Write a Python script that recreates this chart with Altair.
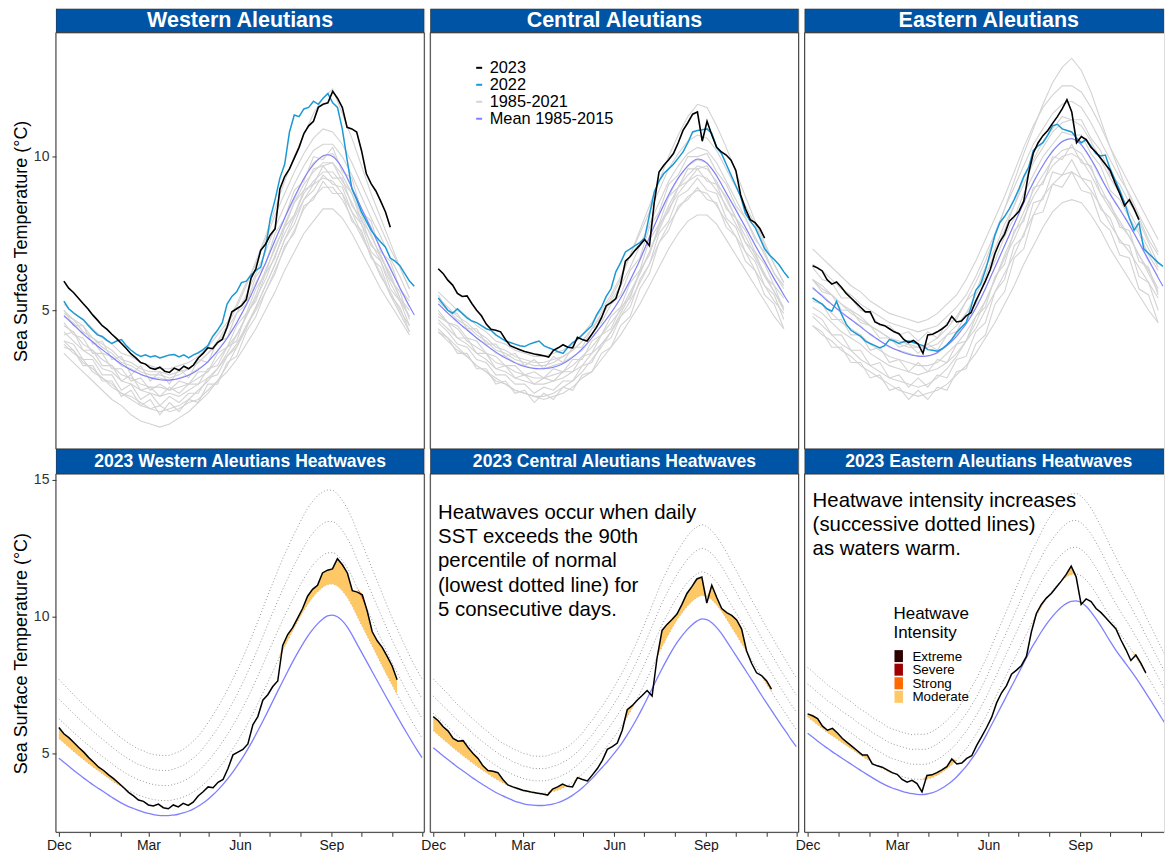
import altair as alt
import pandas as pd

# ---------------------------------------------------------------- data
DAYS = list(range(0, 366, 5))          # days since 1 Dec (climatology, 2022)
DAYS_2023 = list(range(0, 341, 5))     # 2023 record (to early Nov)
GREY_DAYS = list(range(0, 361, 10))    # 1985-2021 years
MONTH_STARTS = [0, 31, 62, 90, 121, 151, 182, 212, 243, 274, 304, 335, 365]
MONTH_NAMES = ["Dec", "", "", "Mar", "", "", "Jun", "", "", "Sep", "", "", ""]

TOP_TITLES = ["Western Aleutians", "Central Aleutians", "Eastern Aleutians"]
BOT_TITLES = ["2023 Western Aleutians Heatwaves", "2023 Central Aleutians Heatwaves",
              "2023 Eastern Aleutians Heatwaves"]
LEGEND_LABELS = ["2023", "2022", "1985-2021", "Mean 1985-2015"]
INTENSITY_LABELS = ["Extreme", "Severe", "Strong", "Moderate"]
NOTE_CENTRAL = ["Heatwaves occur when daily", "SST exceeds the 90th", "percentile of normal",
                "(lowest dotted line) for", "5 consecutive days."]
NOTE_EASTERN = ["Heatwave intensity increases", "(successive dotted lines)", "as waters warm."]
Y_TITLE = "Sea Surface Temperature (°C)"

# ---- Western Aleutians
W_MEAN = [4.83, 4.68, 4.53, 4.38, 4.24, 4.10, 3.97, 3.84, 3.72, 3.60,
          3.48, 3.36, 3.25, 3.15, 3.06, 2.99, 2.92, 2.86, 2.81, 2.77,
          2.74, 2.73, 2.73, 2.75, 2.78, 2.83, 2.89, 2.97, 3.07, 3.19,
          3.33, 3.49, 3.67, 3.87, 4.09, 4.33, 4.59, 4.87, 5.17, 5.49,
          5.83, 6.18, 6.54, 6.91, 7.28, 7.64, 8.00, 8.35, 8.68, 8.99,
          9.28, 9.53, 9.74, 9.91, 10.03, 10.06, 10.00, 9.85, 9.62, 9.32,
          8.98, 8.65, 8.32, 7.99, 7.66, 7.33, 7.00, 6.68, 6.36, 6.04,
          5.73, 5.43, 5.13, 4.85]
W_SPREAD = [.72, .71, .70, .69, .68, .67, .66, .65, .64, .63,
            .62, .61, .60, .59, .58, .57, .56, .56, .55, .55,
            .55, .55, .55, .56, .57, .58, .60, .62, .64, .67,
            .70, .73, .76, .79, .82, .85, .88, .91, .94, .97,
            1.00, 1.03, 1.06, 1.08, 1.10, 1.12, 1.13, 1.14, 1.15, 1.16,
            1.17, 1.17, 1.17, 1.16, 1.15, 1.14, 1.12, 1.10, 1.08, 1.06,
            1.03, 1.00, .97, .94, .91, .88, .85, .82, .80, .78,
            .76, .74, .73, .72]
W_2023 = [5.95, 5.72, 5.58, 5.40, 5.22, 5.05, 4.85, 4.68, 4.50, 4.38,
          4.22, 4.08, 3.92, 3.76, 3.58, 3.45, 3.30, 3.25, 3.12, 3.08,
          3.15, 3.02, 2.98, 3.12, 3.05, 3.18, 3.10, 3.22, 3.45, 3.60,
          3.78, 3.75, 3.95, 4.05, 4.45, 4.95, 5.05, 5.15, 5.35, 6.05,
          6.35, 6.95, 7.15, 7.45, 7.65, 8.95, 9.35, 9.60, 9.95, 10.30,
          10.75, 11.00, 11.15, 11.60, 11.70, 11.75, 12.12, 11.90, 11.60, 10.95,
          10.90, 10.80, 10.20, 9.45, 9.12, 8.88, 8.55, 8.20, 7.70]
W_2022 = [5.30, 5.05, 4.92, 4.80, 4.70, 4.52, 4.35, 4.20, 4.15, 4.02,
          3.92, 4.00, 4.05, 3.85, 3.70, 3.58, 3.50, 3.55, 3.48, 3.52,
          3.45, 3.50, 3.55, 3.56, 3.48, 3.55, 3.45, 3.55, 3.62, 3.72,
          3.85, 4.15, 4.35, 4.60, 5.20, 5.45, 5.60, 5.90, 5.95, 6.15,
          6.30, 6.40, 7.00, 8.00, 8.60, 9.30, 9.75, 10.80, 11.35, 11.30,
          11.55, 11.60, 11.80, 11.70, 11.90, 12.05, 11.75, 11.60, 10.90, 9.90,
          8.95, 8.60, 8.20, 7.90, 7.60, 7.40, 7.22, 7.05, 6.70, 6.60,
          6.45, 6.20, 5.95, 5.78]
W_GREY = [
    [3.9, 3.6, 3.4, 3.0, 2.8, 2.6, 2.3, 2.2, 2.0, 1.8, 1.9, 1.7, 1.8, 2.0, 2.1, 2.4, 2.7, 3.0, 3.4, 3.9,
     4.4, 5.0, 5.6, 6.3, 6.9, 7.5, 7.9, 8.3, 8.3, 8.0, 7.5, 6.9, 6.3, 5.7, 5.2, 4.7, 4.2],
    [4.3, 4.0, 3.7, 3.5, 3.1, 3.0, 2.7, 2.6, 2.4, 2.3, 2.2, 2.3, 2.2, 2.4, 2.6, 2.8, 3.1, 3.5, 3.9, 4.5,
     5.0, 5.6, 6.3, 7.0, 7.6, 8.3, 8.7, 9.0, 9.0, 8.6, 8.0, 7.4, 6.8, 6.1, 5.6, 5.0, 4.5],
    [4.5, 4.3, 3.9, 3.7, 3.4, 3.2, 2.9, 2.8, 2.6, 2.5, 2.5, 2.4, 2.5, 2.6, 2.8, 3.0, 3.4, 3.8, 4.2, 4.8,
     5.4, 6.0, 6.8, 7.5, 8.1, 8.8, 9.2, 9.5, 9.5, 9.1, 8.5, 7.8, 7.2, 6.6, 5.9, 5.3, 4.8],
    [4.8, 4.6, 4.2, 4.0, 3.6, 3.5, 3.2, 3.1, 2.9, 2.8, 2.8, 2.7, 2.8, 2.9, 3.1, 3.3, 3.7, 4.1, 4.6, 5.2,
     5.9, 6.5, 7.3, 8.0, 8.6, 9.3, 9.8, 10.0, 10.1, 9.6, 9.0, 8.3, 7.7, 7.0, 6.4, 5.7, 5.1],
    [5.0, 4.7, 4.5, 4.1, 3.9, 3.7, 3.4, 3.3, 3.1, 3.0, 3.0, 2.9, 3.0, 3.1, 3.3, 3.6, 3.9, 4.4, 4.9, 5.5,
     6.2, 6.9, 7.7, 8.4, 9.1, 9.7, 10.2, 10.4, 10.4, 10.0, 9.4, 8.7, 8.0, 7.4, 6.7, 6.1, 5.4],
    [5.2, 4.9, 4.7, 4.4, 4.1, 3.9, 3.6, 3.5, 3.3, 3.2, 3.1, 3.1, 3.2, 3.3, 3.5, 3.8, 4.2, 4.6, 5.2, 5.9,
     6.5, 7.3, 8.1, 8.8, 9.5, 10.1, 10.6, 10.9, 10.8, 10.4, 9.8, 9.1, 8.4, 7.7, 7.0, 6.4, 5.7],
    [4.9, 4.7, 4.3, 4.1, 3.8, 3.6, 3.3, 3.2, 3.0, 2.9, 2.9, 2.8, 2.9, 3.1, 3.3, 3.6, 4.0, 4.5, 5.1, 5.8,
     6.6, 7.4, 8.3, 9.2, 10.0, 10.7, 11.4, 11.9, 12.2, 11.4, 10.6, 9.7, 8.8, 8.0, 7.2, 6.4, 5.7],
    [4.0, 3.7, 3.3, 3.1, 2.8, 2.5, 2.3, 2.1, 1.9, 1.8, 1.7, 1.8, 1.9, 2.1, 2.4, 2.7, 3.1, 3.6, 4.2, 4.8,
     5.5, 6.3, 7.0, 7.8, 8.5, 9.1, 9.5, 9.8, 9.8, 9.4, 8.8, 8.1, 7.4, 6.8, 6.1, 5.4, 4.8],
    [3.6, 3.3, 3.0, 2.7, 2.4, 2.1, 1.9, 1.6, 1.4, 1.3, 1.2, 1.3, 1.5, 1.7, 2.0, 2.3, 2.7, 3.2, 3.8, 4.4,
     5.1, 5.8, 6.5, 7.3, 8.0, 8.6, 9.1, 9.3, 9.2, 8.8, 8.2, 7.5, 6.8, 6.2, 5.5, 4.9, 4.3],
    [4.2, 4.3, 3.7, 3.7, 3.2, 3.2, 2.7, 2.9, 2.4, 2.5, 2.2, 2.5, 2.3, 2.6, 2.6, 3.1, 3.2, 3.8, 4.0, 4.9,
     5.3, 6.2, 6.7, 7.7, 8.1, 8.9, 9.1, 9.7, 9.3, 9.3, 8.4, 8.0, 7.1, 6.8, 6.0, 5.6, 4.7],
    [4.6, 4.2, 4.1, 3.6, 3.6, 3.1, 3.1, 2.7, 2.8, 2.4, 2.6, 2.4, 2.7, 2.6, 3.0, 3.0, 3.6, 3.8, 4.5, 4.9,
     5.7, 6.2, 7.1, 7.7, 8.5, 8.9, 9.6, 9.7, 9.8, 9.2, 8.8, 7.9, 7.5, 6.7, 6.2, 5.4, 5.0],
    [4.0, 3.9, 3.4, 3.4, 2.9, 2.9, 2.4, 2.6, 2.1, 2.3, 1.9, 2.2, 2.0, 2.3, 2.3, 2.8, 2.9, 3.5, 3.8, 4.5,
     5.1, 5.8, 6.5, 7.3, 7.8, 8.6, 8.9, 9.4, 9.1, 9.0, 8.2, 7.8, 6.9, 6.6, 5.7, 5.3, 4.5],
    [5.0, 4.5, 4.5, 3.9, 4.0, 3.4, 3.5, 2.9, 3.2, 2.7, 3.0, 2.6, 3.1, 2.8, 3.4, 3.3, 4.0, 4.1, 4.9, 5.2,
     6.1, 6.5, 7.5, 8.0, 8.9, 9.2, 10.0, 9.9, 10.3, 9.5, 9.3, 8.2, 7.9, 6.9, 6.6, 5.7, 5.3],
    [3.8, 3.7, 3.2, 3.2, 2.7, 2.7, 2.2, 2.4, 1.9, 2.1, 1.6, 2.0, 1.7, 2.1, 2.0, 2.6, 2.6, 3.3, 3.5, 4.3,
     4.8, 5.6, 6.2, 7.1, 7.5, 8.4, 8.6, 9.2, 8.8, 8.8, 7.9, 7.6, 6.7, 6.4, 5.5, 5.1, 4.3],
]

# ---- Central Aleutians
C_MEAN = [5.21, 5.06, 4.91, 4.77, 4.63, 4.49, 4.36, 4.23, 4.10, 3.98,
          3.86, 3.75, 3.64, 3.54, 3.45, 3.37, 3.29, 3.22, 3.17, 3.13,
          3.11, 3.10, 3.10, 3.12, 3.15, 3.20, 3.27, 3.36, 3.47, 3.60,
          3.75, 3.92, 4.10, 4.30, 4.50, 4.70, 4.92, 5.15, 5.40, 5.68,
          5.98, 6.30, 6.64, 7.00, 7.37, 7.74, 8.10, 8.44, 8.76, 9.05,
          9.30, 9.52, 9.70, 9.84, 9.92, 9.89, 9.78, 9.60, 9.37, 9.10,
          8.82, 8.54, 8.26, 7.98, 7.70, 7.42, 7.13, 6.85, 6.58, 6.30,
          6.03, 5.77, 5.50, 5.25]
C_SPREAD = [.63, .62, .61, .60, .58, .57, .56, .55, .54, .53,
            .52, .51, .50, .49, .48, .48, .47, .47, .46, .46,
            .45, .45, .45, .45, .46, .46, .47, .47, .48, .49,
            .50, .52, .53, .55, .56, .58, .60, .62, .64, .66,
            .68, .70, .72, .74, .76, .78, .80, .81, .82, .83,
            .84, .85, .86, .86, .86, .85, .84, .83, .82, .81,
            .79, .78, .76, .75, .73, .72, .70, .69, .68, .67,
            .66, .65, .64, .63]
C_2023 = [6.35, 6.20, 5.98, 5.82, 5.55, 5.45, 5.47, 5.22, 5.00, 4.82,
          4.55, 4.38, 4.35, 4.30, 4.05, 3.85, 3.78, 3.72, 3.66, 3.62,
          3.58, 3.55, 3.52, 3.48, 3.70, 3.78, 3.88, 3.80, 3.78, 4.12,
          4.05, 4.00, 4.22, 4.45, 4.75, 5.15, 5.25, 5.38, 5.85, 6.60,
          6.75, 6.95, 7.12, 7.30, 7.10, 8.50, 9.50, 9.72, 9.90, 10.10,
          10.45, 10.85, 11.10, 11.38, 11.45, 10.50, 11.15, 10.70, 10.30, 10.15,
          10.05, 9.88, 9.55, 8.75, 8.30, 7.95, 7.85, 7.66, 7.35]
C_2022 = [5.40, 5.20, 5.00, 4.90, 5.05, 4.90, 4.75, 4.65, 4.60, 4.50,
          4.40, 4.35, 4.20, 4.10, 4.00, 3.95, 3.90, 3.85, 3.82, 3.90,
          3.95, 4.00, 3.85, 3.78, 3.72, 3.65, 3.60, 3.80, 3.95, 4.05,
          4.20, 4.35, 4.50, 4.85, 5.10, 5.45, 5.70, 6.25, 6.55, 6.90,
          7.00, 7.10, 7.20, 7.35, 8.10, 8.85, 9.20, 9.45, 9.60, 9.75,
          9.95, 10.15, 10.45, 10.80, 10.85, 10.87, 10.90, 10.75, 10.30, 10.10,
          9.75, 9.40, 9.05, 8.70, 8.15, 7.90, 7.70, 7.35, 7.00, 6.80,
          6.65, 6.48, 6.25, 6.05]
C_GREY = [
    [4.3, 4.0, 3.7, 3.5, 3.2, 3.0, 2.7, 2.6, 2.4, 2.3, 2.2, 2.1, 2.2, 2.3, 2.5, 2.8, 3.0, 3.4, 3.8, 4.2,
     4.7, 5.2, 5.8, 6.4, 7.0, 7.5, 7.9, 8.1, 8.1, 7.8, 7.3, 6.8, 6.3, 5.8, 5.3, 4.8, 4.4],
    [4.7, 4.4, 4.1, 3.9, 3.6, 3.4, 3.1, 3.0, 2.8, 2.7, 2.6, 2.6, 2.7, 2.8, 3.0, 3.2, 3.6, 3.9, 4.3, 4.8,
     5.3, 5.9, 6.5, 7.2, 7.8, 8.3, 8.7, 8.9, 8.8, 8.4, 7.9, 7.4, 6.9, 6.3, 5.8, 5.3, 4.9],
    [4.9, 4.6, 4.4, 4.0, 3.8, 3.6, 3.3, 3.2, 3.0, 2.9, 2.8, 2.8, 2.9, 3.0, 3.2, 3.5, 3.8, 4.2, 4.6, 5.0,
     5.6, 6.2, 6.9, 7.6, 8.3, 8.8, 9.2, 9.4, 9.3, 8.9, 8.4, 7.8, 7.2, 6.7, 6.1, 5.6, 5.1],
    [5.2, 4.9, 4.6, 4.4, 4.1, 3.9, 3.6, 3.5, 3.3, 3.2, 3.1, 3.1, 3.2, 3.3, 3.5, 3.7, 4.1, 4.5, 4.9, 5.4,
     6.0, 6.6, 7.4, 8.1, 8.7, 9.3, 9.7, 9.9, 9.8, 9.4, 8.8, 8.3, 7.7, 7.1, 6.6, 6.0, 5.5],
    [5.4, 5.1, 4.8, 4.6, 4.3, 4.1, 3.8, 3.7, 3.5, 3.4, 3.3, 3.3, 3.4, 3.5, 3.7, 4.0, 4.4, 4.8, 5.3, 5.8,
     6.4, 7.1, 7.8, 8.5, 9.2, 9.7, 10.1, 10.3, 10.2, 9.8, 9.2, 8.6, 8.0, 7.4, 6.8, 6.2, 5.7],
    [5.6, 5.3, 5.0, 4.8, 4.5, 4.3, 4.0, 3.9, 3.7, 3.6, 3.5, 3.5, 3.6, 3.7, 3.9, 4.2, 4.6, 5.0, 5.5, 6.1,
     6.8, 7.5, 8.2, 8.9, 9.6, 10.1, 10.5, 10.7, 10.6, 10.2, 9.6, 9.0, 8.4, 7.8, 7.1, 6.5, 5.9],
    [5.3, 5.0, 4.7, 4.5, 4.2, 4.0, 3.7, 3.6, 3.4, 3.3, 3.2, 3.2, 3.3, 3.5, 3.7, 4.0, 4.4, 4.9, 5.4, 6.0,
     6.8, 7.6, 8.4, 9.2, 10.0, 10.7, 11.3, 11.7, 11.6, 11.0, 10.3, 9.5, 8.7, 7.9, 7.2, 6.5, 5.9],
    [4.4, 4.1, 3.8, 3.5, 3.2, 3.0, 2.8, 2.6, 2.4, 2.3, 2.2, 2.2, 2.3, 2.5, 2.7, 3.0, 3.4, 3.8, 4.3, 4.9,
     5.5, 6.2, 6.9, 7.7, 8.4, 9.0, 9.4, 9.7, 9.6, 9.2, 8.6, 8.0, 7.4, 6.8, 6.2, 5.6, 5.0],
    [4.8, 4.6, 4.1, 4.1, 3.6, 3.6, 3.1, 3.2, 2.8, 2.9, 2.6, 2.8, 2.7, 3.0, 3.0, 3.5, 3.6, 4.2, 4.4, 5.1,
     5.4, 6.3, 6.8, 7.8, 8.2, 9.0, 9.2, 9.6, 9.2, 9.1, 8.3, 8.0, 7.2, 6.9, 6.1, 5.8, 5.0],
    [5.0, 4.6, 4.5, 4.1, 4.0, 3.6, 3.5, 3.2, 3.2, 2.9, 3.0, 2.8, 3.1, 3.0, 3.4, 3.4, 4.0, 4.2, 4.8, 5.1,
     5.9, 6.3, 7.3, 7.8, 8.7, 9.0, 9.6, 9.6, 9.7, 9.1, 8.7, 8.0, 7.6, 6.9, 6.5, 5.8, 5.4],
    [4.6, 4.3, 3.9, 3.8, 3.4, 3.3, 2.9, 2.9, 2.6, 2.6, 2.3, 2.5, 2.4, 2.7, 2.7, 3.2, 3.3, 3.9, 4.1, 4.8,
     5.1, 6.0, 6.5, 7.5, 7.9, 8.7, 8.9, 9.3, 8.9, 8.8, 8.0, 7.7, 6.9, 6.6, 5.8, 5.5, 4.7],
    [5.5, 5.0, 4.9, 4.4, 4.4, 3.9, 3.9, 3.5, 3.6, 3.2, 3.4, 3.1, 3.5, 3.3, 3.8, 3.8, 4.4, 4.6, 5.2, 5.5,
     6.3, 6.7, 7.7, 8.2, 9.1, 9.4, 10.0, 10.0, 10.1, 9.5, 9.1, 8.4, 8.0, 7.3, 6.9, 6.2, 5.8],
    [4.3, 4.1, 3.6, 3.6, 3.1, 3.1, 2.6, 2.7, 2.3, 2.4, 2.0, 2.3, 2.1, 2.5, 2.4, 2.9, 3.0, 3.6, 3.8, 4.5,
     4.8, 5.7, 6.2, 7.2, 7.6, 8.4, 8.6, 9.0, 8.6, 8.5, 7.7, 7.4, 6.6, 6.3, 5.5, 5.2, 4.4],
]

# ---- Eastern Aleutians
E_MEAN = [5.74, 5.60, 5.46, 5.32, 5.19, 5.06, 4.94, 4.82, 4.70, 4.58,
          4.46, 4.34, 4.23, 4.12, 4.01, 3.91, 3.82, 3.74, 3.68, 3.62,
          3.57, 3.53, 3.51, 3.50, 3.52, 3.56, 3.63, 3.73, 3.85, 3.99,
          4.15, 4.35, 4.56, 4.80, 5.07, 5.37, 5.70, 6.05, 6.40, 6.75,
          7.10, 7.45, 7.80, 8.15, 8.50, 8.85, 9.15, 9.45, 9.72, 9.96,
          10.17, 10.35, 10.48, 10.56, 10.58, 10.52, 10.38, 10.17, 9.92, 9.65,
          9.35, 9.05, 8.77, 8.52, 8.28, 8.03, 7.77, 7.50, 7.22, 6.93,
          6.64, 6.35, 6.06, 5.78]
E_SPREAD = [.60, .60, .59, .59, .58, .58, .58, .57, .57, .57,
            .56, .56, .56, .55, .55, .55, .54, .54, .54, .54,
            .54, .54, .55, .55, .55, .56, .57, .58, .59, .60,
            .61, .63, .64, .66, .67, .69, .70, .72, .74, .76,
            .78, .80, .82, .84, .86, .88, .89, .91, .93, .94,
            .95, .96, .97, .98, .98, .97, .96, .95, .93, .91,
            .89, .87, .85, .82, .80, .78, .75, .73, .70, .68,
            .66, .64, .62, .60]
E_2023 = [6.45, 6.38, 6.28, 6.00, 5.85, 5.92, 5.75, 5.55, 5.40, 5.25,
          5.10, 4.95, 4.95, 4.62, 4.55, 4.50, 4.40, 4.30, 4.24, 4.05,
          3.95, 4.02, 3.90, 3.60, 4.20, 4.22, 4.30, 4.40, 4.52, 4.80,
          4.62, 4.65, 4.82, 4.92, 5.30, 5.62, 5.95, 6.32, 6.85, 7.22,
          7.48, 7.90, 8.05, 8.22, 8.55, 9.45, 10.12, 10.45, 10.68, 10.85,
          11.08, 11.30, 11.55, 11.85, 11.45, 10.45, 10.65, 10.55, 10.30, 10.15,
          9.95, 9.75, 9.55, 9.15, 8.80, 8.40, 8.60, 8.30, 7.95]
E_2022 = [5.40, 5.30, 5.20, 5.05, 4.97, 5.29, 4.88, 4.55, 4.35, 4.25,
          4.15, 4.00, 3.92, 3.85, 3.78, 3.85, 4.05, 4.00, 3.92, 3.98,
          4.00, 3.95, 3.90, 3.85, 3.72, 3.70, 3.67, 3.75, 3.88, 4.05,
          4.28, 4.45, 4.60, 5.10, 5.65, 5.85, 6.30, 6.85, 7.45, 7.85,
          8.05, 8.30, 8.60, 8.95, 9.35, 9.65, 10.20, 10.35, 10.45, 10.70,
          11.00, 11.05, 10.90, 10.85, 10.80, 10.60, 10.45, 10.55, 10.35, 10.10,
          10.02, 10.05, 9.60, 9.25, 8.90, 8.50, 8.00, 7.60, 7.85, 7.00,
          6.85, 6.70, 6.55, 6.43]
E_GREY = [
    [4.5, 4.2, 4.0, 3.7, 3.5, 3.2, 3.0, 2.8, 2.6, 2.4, 2.3, 2.2, 2.3, 2.4, 2.6, 2.9, 3.2, 3.6, 4.1, 4.6,
     5.2, 5.8, 6.5, 7.1, 7.7, 8.2, 8.5, 8.6, 8.5, 8.1, 7.6, 7.0, 6.5, 6.0, 5.5, 5.0, 4.6],
    [5.1, 4.9, 4.6, 4.3, 4.1, 3.9, 3.6, 3.4, 3.2, 3.1, 3.0, 2.9, 3.0, 3.1, 3.3, 3.6, 4.0, 4.4, 5.0, 5.6,
     6.2, 6.8, 7.5, 8.1, 8.7, 9.1, 9.4, 9.5, 9.3, 8.9, 8.4, 7.8, 7.3, 6.9, 6.4, 5.9, 5.4],
    [5.4, 5.2, 4.9, 4.6, 4.4, 4.2, 3.9, 3.7, 3.5, 3.4, 3.3, 3.2, 3.2, 3.3, 3.6, 3.9, 4.3, 4.8, 5.3, 6.0,
     6.7, 7.3, 8.0, 8.7, 9.2, 9.7, 10.0, 10.1, 9.9, 9.4, 8.8, 8.3, 7.8, 7.4, 6.8, 6.3, 5.7],
    [5.7, 5.5, 5.2, 4.9, 4.7, 4.5, 4.2, 4.0, 3.8, 3.7, 3.6, 3.5, 3.5, 3.6, 3.9, 4.2, 4.6, 5.1, 5.7, 6.4,
     7.1, 7.8, 8.5, 9.2, 9.7, 10.2, 10.5, 10.6, 10.4, 9.9, 9.3, 8.8, 8.3, 7.8, 7.2, 6.6, 6.1],
    [6.0, 5.8, 5.5, 5.2, 5.0, 4.8, 4.5, 4.3, 4.1, 4.0, 3.9, 3.8, 3.8, 3.9, 4.2, 4.5, 4.9, 5.5, 6.1, 6.9,
     7.6, 8.4, 9.1, 9.8, 10.3, 10.8, 11.1, 11.2, 11.0, 10.5, 9.9, 9.3, 8.8, 8.2, 7.6, 7.0, 6.4],
    [6.5, 6.3, 6.0, 5.7, 5.5, 5.2, 5.0, 4.8, 4.6, 4.5, 4.4, 4.3, 4.4, 4.5, 4.8, 5.1, 5.5, 6.1, 6.8, 7.5,
     8.3, 9.0, 9.7, 10.4, 10.9, 11.4, 11.7, 11.8, 11.6, 11.1, 10.5, 9.9, 9.3, 8.8, 8.1, 7.5, 6.9],
    [6.0, 5.7, 5.5, 5.2, 4.9, 4.7, 4.5, 4.3, 4.1, 3.9, 3.8, 3.8, 3.9, 4.1, 4.4, 4.8, 5.3, 5.9, 6.6, 7.4,
     8.3, 9.2, 10.1, 10.9, 11.7, 12.4, 12.9, 13.2, 12.8, 12.1, 11.2, 10.3, 9.5, 8.7, 7.9, 7.2, 6.5],
    [4.8, 4.5, 4.2, 3.9, 3.7, 3.4, 3.2, 3.0, 2.8, 2.7, 2.6, 2.5, 2.6, 2.8, 3.1, 3.5, 4.0, 4.6, 5.3, 6.0,
     6.8, 7.5, 8.2, 8.9, 9.4, 9.9, 10.2, 10.3, 10.1, 9.6, 9.0, 8.4, 7.9, 7.4, 6.8, 6.2, 5.6],
    [7.0, 6.7, 6.4, 6.1, 5.8, 5.6, 5.3, 5.1, 4.9, 4.8, 4.7, 4.6, 4.7, 4.9, 5.2, 5.5, 6.0, 6.6, 7.3, 8.0,
     8.7, 9.5, 10.3, 11.0, 11.6, 12.0, 12.3, 12.3, 12.1, 11.6, 11.0, 10.3, 9.7, 9.1, 8.5, 7.9, 7.3],
    [5.3, 5.2, 4.7, 4.7, 4.2, 4.2, 3.7, 3.8, 3.3, 3.4, 3.0, 3.3, 3.0, 3.4, 3.3, 3.9, 4.0, 4.8, 5.1, 6.1,
     6.5, 7.6, 7.9, 9.0, 9.1, 10.0, 9.9, 10.4, 9.8, 9.7, 8.8, 8.5, 7.7, 7.6, 6.6, 6.4, 5.5],
    [6.0, 5.6, 5.5, 5.0, 5.0, 4.6, 4.5, 4.1, 4.1, 3.8, 3.9, 3.6, 3.9, 3.7, 4.2, 4.3, 4.9, 5.2, 6.0, 6.6,
     7.4, 8.0, 8.8, 9.4, 10.0, 10.4, 10.8, 10.7, 10.7, 10.1, 9.7, 8.9, 8.6, 8.0, 7.5, 6.8, 6.3],
    [4.9, 4.7, 4.2, 4.2, 3.7, 3.7, 3.2, 3.3, 2.8, 2.9, 2.5, 2.8, 2.5, 2.9, 2.8, 3.4, 3.5, 4.3, 4.6, 5.6,
     6.0, 7.1, 7.4, 8.5, 8.6, 9.5, 9.4, 9.9, 9.3, 9.2, 8.3, 8.0, 7.2, 7.1, 6.1, 5.9, 5.0],
    [6.4, 6.0, 5.9, 5.4, 5.4, 5.0, 4.9, 4.5, 4.5, 4.2, 4.3, 4.0, 4.3, 4.1, 4.6, 4.7, 5.3, 5.6, 6.4, 7.0,
     7.8, 8.4, 9.3, 9.9, 10.5, 10.9, 11.3, 11.2, 11.2, 10.6, 10.2, 9.4, 9.1, 8.5, 8.0, 7.3, 6.8],
    [4.5, 4.3, 3.8, 3.8, 3.3, 3.3, 2.8, 2.9, 2.4, 2.5, 2.1, 2.4, 2.1, 2.5, 2.4, 3.0, 3.1, 3.9, 4.2, 5.2,
     5.6, 6.7, 7.0, 8.1, 8.2, 9.1, 9.0, 9.5, 8.9, 8.8, 7.9, 7.6, 6.8, 6.7, 5.7, 5.5, 4.6],
]

REGIONS = [
    dict(mean=W_MEAN, spread=W_SPREAD, y23=W_2023, y22=W_2022, grey=W_GREY),
    dict(mean=C_MEAN, spread=C_SPREAD, y23=C_2023, y22=C_2022, grey=C_GREY),
    dict(mean=E_MEAN, spread=E_SPREAD, y23=E_2023, y22=E_2022, grey=E_GREY),
]

# ---------------------------------------------------------------- style
FONT = "Liberation Sans"
STRIP_BLUE = "#0054A5"
COL_2023 = "#000000"
COL_2022 = "#1B98D5"
COL_GREY = "#D3D3D3"
COL_MEAN = "#7F7FFF"
COL_DOT = "#8C8C8C"
COL_FRAME = "#333333"
INTENSITY_COLORS = ["#2D0000", "#9E0000", "#FF6900", "#FFC866"]
LEGEND_COLORS = [COL_2023, COL_2022, COL_GREY, COL_MEAN]

PANEL_W = [369, 369, 360]
TOP_STRIP_H, TOP_H, BOT_STRIP_H, BOT_H = 24, 417, 25, 359
TOP_X = [[-8.3, 375.4], [-8.3, 375.4], [-8.3, 366.1]]
BOT_X = [[-3.0, 367.3], [-3.0, 367.3], [-3.0, 358.3]]
TOP_Y = [0.49, 14.03]
BOT_Y = [2.12, 15.22]

ONE = pd.DataFrame({"a": [0]})


def tidy(days, vals, **extra):
    n = min(len(days), len(vals))
    d = {"day": days[:n], "val": list(vals[:n])}
    for k, v in extra.items():
        d[k] = [v] * n
    return pd.DataFrame(d)


def y_axis(title_y, values):
    return alt.Axis(values=values, title=Y_TITLE, grid=False, domain=False, ticks=True,
                    tickSize=4, tickColor=COL_FRAME, labelFontSize=14, labelColor="#333333",
                    labelFont=FONT, labelPadding=3, titleFont=FONT, titleFontSize=18,
                    titleFontWeight="normal", titleColor="#000000", titleAngle=270,
                    titleAlign="center", titleBaseline="middle", titleX=-34, titleY=title_y)


def frame(w, h, right=True):
    rules = [
        alt.Chart(ONE).mark_rule(color=COL_FRAME, strokeWidth=1).encode(
            x=alt.value(0), y=alt.value(0), y2=alt.value(h)),
        alt.Chart(ONE).mark_rule(color=COL_FRAME, strokeWidth=1).encode(
            x=alt.value(0), x2=alt.value(w), y=alt.value(0)),
        alt.Chart(ONE).mark_rule(color=COL_FRAME, strokeWidth=1).encode(
            x=alt.value(0), x2=alt.value(w), y=alt.value(h)),
    ]
    if right:
        rules.append(alt.Chart(ONE).mark_rule(color=COL_FRAME, strokeWidth=1).encode(
            x=alt.value(w), y=alt.value(0), y2=alt.value(h)))
    return rules


def strip(i, text, h, size):
    w = PANEL_W[i]
    df = pd.DataFrame({"label": [text]})
    last = i == 2
    rect = alt.Chart(df).mark_rect(color=STRIP_BLUE, stroke=COL_FRAME, strokeWidth=1,
                                   clip=True).encode(
        x=alt.value(0), x2=alt.value(w + 6 if last else w), y=alt.value(0), y2=alt.value(h))
    txt = alt.Chart(df).mark_text(color="white", fontSize=size, fontWeight="bold", font=FONT,
                                  align="center", baseline="middle").encode(
        x=alt.value(w / 2 if not last else PANEL_W[0] / 2), y=alt.value(h / 2 + 0.5),
        text="label:N")
    return alt.layer(rect, txt).properties(width=w, height=h)


def top_panel(i):
    r = REGIONS[i]
    w = PANEL_W[i]
    xs = alt.X("day:Q", scale=alt.Scale(domain=TOP_X[i], nice=False, zero=False), axis=None)
    ax = y_axis(TOP_H / 2, [5, 10]) if i == 0 else None
    ys = alt.Y("val:Q", scale=alt.Scale(domain=TOP_Y, nice=False, zero=False), axis=ax)
    grey_df = pd.concat([tidy(GREY_DAYS, g, line=j) for j, g in enumerate(r["grey"])])
    layers = [
        alt.Chart(grey_df).mark_line(color=COL_GREY, strokeWidth=1.1, clip=True).encode(
            x=xs, y=ys, detail="line:N"),
        alt.Chart(tidy(DAYS, r["mean"])).mark_line(color=COL_MEAN, strokeWidth=1.1, clip=True,
                                                   interpolate="monotone").encode(x=xs, y=ys),
        alt.Chart(tidy(DAYS, r["y22"])).mark_line(color=COL_2022, strokeWidth=1.5,
                                                  clip=True).encode(x=xs, y=ys),
        alt.Chart(tidy(DAYS_2023, r["y23"])).mark_line(color=COL_2023, strokeWidth=1.6,
                                                       clip=True).encode(x=xs, y=ys),
    ]
    if i == 1:
        for k, (lab, col) in enumerate(zip(LEGEND_LABELS, LEGEND_COLORS)):
            yy = 35.2 + 17.0 * k
            layers.append(alt.Chart(ONE).mark_rule(color=col, strokeWidth=2).encode(
                x=alt.value(46), x2=alt.value(52), y=alt.value(yy)))
            layers.append(alt.Chart(pd.DataFrame({"label": [lab]})).mark_text(
                align="left", baseline="middle", fontSize=16.4, font=FONT, color="#000000").encode(
                x=alt.value(59.5), y=alt.value(yy + 0.5), text="label:N"))
    layers += frame(w, TOP_H, right=(i != 2))
    return alt.layer(*layers).properties(width=w, height=TOP_H)


def bottom_panel(i):
    r = REGIONS[i]
    w = PANEL_W[i]
    parts = [f"datum.value == {d} ? '{n}'" for d, n in zip(MONTH_STARTS, MONTH_NAMES) if n]
    label_expr = " : ".join(parts) + " : ''"
    xaxis = alt.Axis(values=MONTH_STARTS, labelExpr=label_expr, title=None, grid=False,
                     domain=False, tickSize=4, tickColor=COL_FRAME, labelFontSize=14,
                     labelColor="#1A1A1A", labelFont=FONT, labelPadding=2, labelFlush=False,
                     labelOverlap=False)
    xs = alt.X("day:Q", scale=alt.Scale(domain=BOT_X[i], nice=False, zero=False), axis=xaxis)
    ax = y_axis(BOT_H / 2, [5, 10, 15]) if i == 0 else None
    yscale = alt.Scale(domain=BOT_Y, nice=False, zero=False)
    ys = alt.Y("val:Q", scale=yscale, axis=ax)

    mean, spread = r["mean"], r["spread"]
    thr_df = pd.concat([
        pd.DataFrame({"day": DAYS, "val": [m + k * s for m, s in zip(mean, spread)], "k": k})
        for k in (1, 2, 3, 4)])
    n = len(r["y23"])
    sst = r["y23"]
    t1 = [m + s for m, s in zip(mean[:n], spread[:n])]
    t2 = [m + 2 * s for m, s in zip(mean[:n], spread[:n])]
    fill_df = pd.DataFrame({
        "day": DAYS_2023[:n],
        "val": t1, "high": [max(a, b) for a, b in zip(sst, t1)],
        "val2": t2, "high2": [max(a, b) for a, b in zip(sst, t2)],
    })
    layers = [
        alt.Chart(thr_df).mark_line(color=COL_DOT, strokeWidth=0.9, strokeDash=[1, 2.2],
                                    clip=True, interpolate="monotone").encode(
            x=xs, y=ys, detail="k:N"),
        alt.Chart(fill_df).mark_area(color=INTENSITY_COLORS[3], clip=True).encode(
            x=xs, y=ys, y2=alt.Y2("high:Q")),
        alt.Chart(fill_df).mark_area(color=INTENSITY_COLORS[2], clip=True).encode(
            x=xs, y=alt.Y("val2:Q", scale=yscale, axis=ax), y2=alt.Y2("high2:Q")),
        alt.Chart(tidy(DAYS, mean)).mark_line(color=COL_MEAN, strokeWidth=1.3, clip=True,
                                              interpolate="monotone").encode(x=xs, y=ys),
        alt.Chart(tidy(DAYS_2023, sst)).mark_line(color=COL_2023, strokeWidth=1.5,
                                                  clip=True).encode(x=xs, y=ys),
    ]
    if i == 1:
        for k, line in enumerate(NOTE_CENTRAL):
            layers.append(alt.Chart(pd.DataFrame({"label": [line]})).mark_text(
                align="left", baseline="middle", fontSize=20.4, font=FONT, color="#000000").encode(
                x=alt.value(7.8), y=alt.value(38.7 + 24.5 * k), text="label:N"))
    if i == 2:
        for k, line in enumerate(NOTE_EASTERN):
            layers.append(alt.Chart(pd.DataFrame({"label": [line]})).mark_text(
                align="left", baseline="middle", fontSize=20.4, font=FONT, color="#000000").encode(
                x=alt.value(8), y=alt.value(27 + 24.3 * k), text="label:N"))
        for k, line in enumerate(["Heatwave", "Intensity"]):
            layers.append(alt.Chart(pd.DataFrame({"label": [line]})).mark_text(
                align="left", baseline="middle", fontSize=17, font=FONT, color="#000000").encode(
                x=alt.value(89), y=alt.value(140 + 19.5 * k), text="label:N"))
        for k, (lab, col) in enumerate(zip(INTENSITY_LABELS, INTENSITY_COLORS)):
            yy = 182.5 + 13.6 * k
            layers.append(alt.Chart(ONE).mark_rect(color=col).encode(
                x=alt.value(90), x2=alt.value(98.5), y=alt.value(yy - 6), y2=alt.value(yy + 6)))
            layers.append(alt.Chart(pd.DataFrame({"label": [lab]})).mark_text(
                align="left", baseline="middle", fontSize=13.4, font=FONT, color="#000000").encode(
                x=alt.value(108), y=alt.value(yy + 0.5), text="label:N"))
    layers += frame(w, BOT_H, right=(i != 2))
    return alt.layer(*layers).properties(width=w, height=BOT_H)


cells = []
cells += [strip(i, TOP_TITLES[i], TOP_STRIP_H, 21.5) for i in range(3)]
cells += [top_panel(i) for i in range(3)]
cells += [strip(i, BOT_TITLES[i], BOT_STRIP_H, 17.6) for i in range(3)]
cells += [bottom_panel(i) for i in range(3)]

chart = alt.concat(*cells, columns=3, spacing={"row": 0, "column": 6},
                   bounds="flush", align="each").properties(
    padding={"left": 12, "top": 7, "right": 0, "bottom": 0}
).configure_view(stroke="transparent").configure(background="white")

chart.save("out.html", embed_options={"renderer": "svg", "actions": False})
